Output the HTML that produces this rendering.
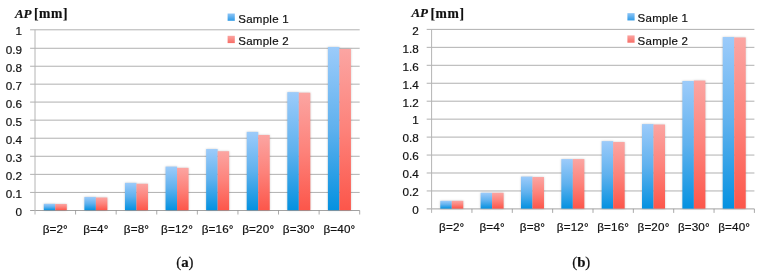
<!DOCTYPE html>
<html><head><meta charset="utf-8"><title>AP charts</title>
<style>
html,body{margin:0;padding:0;background:#fff;}
svg{display:block;}
text{font-family:"Liberation Sans",sans-serif;fill:#111;stroke:#111;stroke-width:0.2px;}
.yl{font-size:11.7px;}
.xl{font-size:11.7px;letter-spacing:0.15px;}
.lt{font-size:11.5px;letter-spacing:0.25px;}
.ti{font-family:"Liberation Serif",serif;font-weight:bold;font-size:13px;fill:#111;stroke:#111;stroke-width:0.2px;}
.tb{font-size:13.6px;letter-spacing:0.65px;}
.cap{font-family:"Liberation Serif",serif;font-size:14.8px;fill:#111;}
</style></head><body>
<svg width="762" height="274" viewBox="0 0 762 274">
<defs>
<linearGradient id="g1" x1="0" y1="0" x2="0" y2="1"><stop offset="0" stop-color="#9ccbfa"/><stop offset="0.5" stop-color="#5fb1ee"/><stop offset="1" stop-color="#0491e0"/></linearGradient>
<linearGradient id="g2" x1="0" y1="0" x2="0" y2="1"><stop offset="0" stop-color="#fba5a2"/><stop offset="0.5" stop-color="#fd827a"/><stop offset="1" stop-color="#fc564a"/></linearGradient>
<linearGradient id="l1" x1="0" y1="0" x2="0" y2="1"><stop offset="0" stop-color="#8fc6f7"/><stop offset="1" stop-color="#2e9ae6"/></linearGradient>
<linearGradient id="l2" x1="0" y1="0" x2="0" y2="1"><stop offset="0" stop-color="#fba5a2"/><stop offset="1" stop-color="#f76d66"/></linearGradient>
<filter id="sh" x="-5%" y="-5%" width="110%" height="110%"><feGaussianBlur stdDeviation="0.9"/></filter>
</defs>
<rect width="762" height="274" fill="#fff"/>
<line x1="30.10" y1="210.50" x2="359.70" y2="210.50" stroke="#8a8a8a" stroke-width="0.8"/>
<text class="yl" x="22.10" y="216.10" text-anchor="end">0</text>
<line x1="30.10" y1="192.43" x2="359.70" y2="192.43" stroke="#a2a2a2" stroke-width="0.85"/>
<text class="yl" x="22.10" y="198.03" text-anchor="end">0.1</text>
<line x1="30.10" y1="174.36" x2="359.70" y2="174.36" stroke="#a2a2a2" stroke-width="0.85"/>
<text class="yl" x="22.10" y="179.96" text-anchor="end">0.2</text>
<line x1="30.10" y1="156.29" x2="359.70" y2="156.29" stroke="#a2a2a2" stroke-width="0.85"/>
<text class="yl" x="22.10" y="161.89" text-anchor="end">0.3</text>
<line x1="30.10" y1="138.22" x2="359.70" y2="138.22" stroke="#a2a2a2" stroke-width="0.85"/>
<text class="yl" x="22.10" y="143.82" text-anchor="end">0.4</text>
<line x1="30.10" y1="120.15" x2="359.70" y2="120.15" stroke="#a2a2a2" stroke-width="0.85"/>
<text class="yl" x="22.10" y="125.75" text-anchor="end">0.5</text>
<line x1="30.10" y1="102.08" x2="359.70" y2="102.08" stroke="#a2a2a2" stroke-width="0.85"/>
<text class="yl" x="22.10" y="107.68" text-anchor="end">0.6</text>
<line x1="30.10" y1="84.16" x2="359.70" y2="84.16" stroke="#a2a2a2" stroke-width="0.85"/>
<text class="yl" x="22.10" y="89.76" text-anchor="end">0.7</text>
<line x1="30.10" y1="66.24" x2="359.70" y2="66.24" stroke="#a2a2a2" stroke-width="0.85"/>
<text class="yl" x="22.10" y="71.84" text-anchor="end">0.8</text>
<line x1="30.10" y1="48.27" x2="359.70" y2="48.27" stroke="#a2a2a2" stroke-width="0.85"/>
<text class="yl" x="22.10" y="53.87" text-anchor="end">0.9</text>
<line x1="30.10" y1="29.80" x2="359.70" y2="29.80" stroke="#a2a2a2" stroke-width="0.85"/>
<text class="yl" x="22.10" y="35.40" text-anchor="end">1</text>
<line x1="35.00" y1="29.80" x2="35.00" y2="214.50" stroke="#b4b4b4" stroke-width="1"/>
<line x1="75.59" y1="210.50" x2="75.59" y2="214.50" stroke="#8c8c8c" stroke-width="0.75"/>
<line x1="116.17" y1="210.50" x2="116.17" y2="214.50" stroke="#8c8c8c" stroke-width="0.75"/>
<line x1="156.76" y1="210.50" x2="156.76" y2="214.50" stroke="#8c8c8c" stroke-width="0.75"/>
<line x1="197.35" y1="210.50" x2="197.35" y2="214.50" stroke="#8c8c8c" stroke-width="0.75"/>
<line x1="237.94" y1="210.50" x2="237.94" y2="214.50" stroke="#8c8c8c" stroke-width="0.75"/>
<line x1="278.52" y1="210.50" x2="278.52" y2="214.50" stroke="#8c8c8c" stroke-width="0.75"/>
<line x1="319.11" y1="210.50" x2="319.11" y2="214.50" stroke="#8c8c8c" stroke-width="0.75"/>
<line x1="359.70" y1="210.50" x2="359.70" y2="214.50" stroke="#8c8c8c" stroke-width="0.75"/>
<text class="xl" x="55.29" y="232.5" text-anchor="middle">β=2°</text>
<text class="xl" x="95.88" y="232.5" text-anchor="middle">β=4°</text>
<text class="xl" x="136.47" y="232.5" text-anchor="middle">β=8°</text>
<text class="xl" x="177.06" y="232.5" text-anchor="middle">β=12°</text>
<text class="xl" x="217.64" y="232.5" text-anchor="middle">β=16°</text>
<text class="xl" x="258.23" y="232.5" text-anchor="middle">β=20°</text>
<text class="xl" x="298.82" y="232.5" text-anchor="middle">β=30°</text>
<text class="xl" x="339.41" y="232.5" text-anchor="middle">β=40°</text>
<g filter="url(#sh)" fill="#000" fill-opacity="0.2"><rect x="43.79" y="203.81" width="11.50" height="6.39"/><rect x="55.29" y="203.99" width="11.50" height="6.21"/><rect x="84.38" y="196.95" width="11.50" height="13.25"/><rect x="95.88" y="197.49" width="11.50" height="12.71"/><rect x="124.97" y="182.85" width="11.50" height="27.35"/><rect x="136.47" y="183.76" width="11.50" height="26.44"/><rect x="165.56" y="166.59" width="11.50" height="43.61"/><rect x="177.06" y="167.85" width="11.50" height="42.35"/><rect x="206.14" y="149.06" width="11.50" height="61.14"/><rect x="217.64" y="151.23" width="11.50" height="58.97"/><rect x="246.73" y="131.90" width="11.50" height="78.30"/><rect x="258.23" y="134.97" width="11.50" height="75.23"/><rect x="287.32" y="92.14" width="11.50" height="118.06"/><rect x="298.82" y="92.68" width="11.50" height="117.52"/><rect x="327.91" y="46.97" width="11.50" height="163.23"/><rect x="339.41" y="48.95" width="11.50" height="161.25"/></g>
<rect x="43.79" y="203.81" width="11.50" height="6.39" fill="url(#g1)"/>
<rect x="55.29" y="203.99" width="11.50" height="6.21" fill="url(#g2)"/>
<rect x="84.38" y="196.95" width="11.50" height="13.25" fill="url(#g1)"/>
<rect x="95.88" y="197.49" width="11.50" height="12.71" fill="url(#g2)"/>
<rect x="124.97" y="182.85" width="11.50" height="27.35" fill="url(#g1)"/>
<rect x="136.47" y="183.76" width="11.50" height="26.44" fill="url(#g2)"/>
<rect x="165.56" y="166.59" width="11.50" height="43.61" fill="url(#g1)"/>
<rect x="177.06" y="167.85" width="11.50" height="42.35" fill="url(#g2)"/>
<rect x="206.14" y="149.06" width="11.50" height="61.14" fill="url(#g1)"/>
<rect x="217.64" y="151.23" width="11.50" height="58.97" fill="url(#g2)"/>
<rect x="246.73" y="131.90" width="11.50" height="78.30" fill="url(#g1)"/>
<rect x="258.23" y="134.97" width="11.50" height="75.23" fill="url(#g2)"/>
<rect x="287.32" y="92.14" width="11.50" height="118.06" fill="url(#g1)"/>
<rect x="298.82" y="92.68" width="11.50" height="117.52" fill="url(#g2)"/>
<rect x="327.91" y="46.97" width="11.50" height="163.23" fill="url(#g1)"/>
<rect x="339.41" y="48.95" width="11.50" height="161.25" fill="url(#g2)"/>
<text class="ti" x="14.9" y="17.7" font-style="italic">AP</text>
<text class="ti tb" x="33.90" y="18.00">[mm]</text>
<rect x="227.6" y="13.5" width="7.2" height="7.3" fill="url(#l1)"/>
<text class="lt" x="238.30" y="22.6">Sample 1</text>
<rect x="227.6" y="35.8" width="7.2" height="7.3" fill="url(#l2)"/>
<text class="lt" x="238.30" y="45.0">Sample 2</text>
<text class="cap" x="184.85" y="266.6" text-anchor="middle">(<tspan font-weight="bold">a</tspan>)</text>
<line x1="426.70" y1="208.90" x2="754.40" y2="208.90" stroke="#8a8a8a" stroke-width="0.8"/>
<text class="yl" x="418.70" y="214.20" text-anchor="end">0</text>
<line x1="426.70" y1="190.95" x2="754.40" y2="190.95" stroke="#a2a2a2" stroke-width="0.85"/>
<text class="yl" x="418.70" y="196.25" text-anchor="end">0.2</text>
<line x1="426.70" y1="173.00" x2="754.40" y2="173.00" stroke="#a2a2a2" stroke-width="0.85"/>
<text class="yl" x="418.70" y="178.30" text-anchor="end">0.4</text>
<line x1="426.70" y1="155.05" x2="754.40" y2="155.05" stroke="#a2a2a2" stroke-width="0.85"/>
<text class="yl" x="418.70" y="160.35" text-anchor="end">0.6</text>
<line x1="426.70" y1="137.10" x2="754.40" y2="137.10" stroke="#a2a2a2" stroke-width="0.85"/>
<text class="yl" x="418.70" y="142.40" text-anchor="end">0.8</text>
<line x1="426.70" y1="119.15" x2="754.40" y2="119.15" stroke="#a2a2a2" stroke-width="0.85"/>
<text class="yl" x="418.70" y="124.45" text-anchor="end">1</text>
<line x1="426.70" y1="101.20" x2="754.40" y2="101.20" stroke="#a2a2a2" stroke-width="0.85"/>
<text class="yl" x="418.70" y="106.50" text-anchor="end">1.2</text>
<line x1="426.70" y1="83.25" x2="754.40" y2="83.25" stroke="#a2a2a2" stroke-width="0.85"/>
<text class="yl" x="418.70" y="88.55" text-anchor="end">1.4</text>
<line x1="426.70" y1="65.30" x2="754.40" y2="65.30" stroke="#a2a2a2" stroke-width="0.85"/>
<text class="yl" x="418.70" y="70.60" text-anchor="end">1.6</text>
<line x1="426.70" y1="47.35" x2="754.40" y2="47.35" stroke="#a2a2a2" stroke-width="0.85"/>
<text class="yl" x="418.70" y="52.65" text-anchor="end">1.8</text>
<line x1="426.70" y1="29.40" x2="754.40" y2="29.40" stroke="#a2a2a2" stroke-width="0.85"/>
<text class="yl" x="418.70" y="34.70" text-anchor="end">2</text>
<line x1="431.60" y1="29.40" x2="431.60" y2="212.90" stroke="#b4b4b4" stroke-width="1"/>
<line x1="471.95" y1="208.90" x2="471.95" y2="212.90" stroke="#8c8c8c" stroke-width="0.75"/>
<line x1="512.30" y1="208.90" x2="512.30" y2="212.90" stroke="#8c8c8c" stroke-width="0.75"/>
<line x1="552.65" y1="208.90" x2="552.65" y2="212.90" stroke="#8c8c8c" stroke-width="0.75"/>
<line x1="593.00" y1="208.90" x2="593.00" y2="212.90" stroke="#8c8c8c" stroke-width="0.75"/>
<line x1="633.35" y1="208.90" x2="633.35" y2="212.90" stroke="#8c8c8c" stroke-width="0.75"/>
<line x1="673.70" y1="208.90" x2="673.70" y2="212.90" stroke="#8c8c8c" stroke-width="0.75"/>
<line x1="714.05" y1="208.90" x2="714.05" y2="212.90" stroke="#8c8c8c" stroke-width="0.75"/>
<line x1="754.40" y1="208.90" x2="754.40" y2="212.90" stroke="#8c8c8c" stroke-width="0.75"/>
<text class="xl" x="451.78" y="231.0" text-anchor="middle">β=2°</text>
<text class="xl" x="492.12" y="231.0" text-anchor="middle">β=4°</text>
<text class="xl" x="532.48" y="231.0" text-anchor="middle">β=8°</text>
<text class="xl" x="572.83" y="231.0" text-anchor="middle">β=12°</text>
<text class="xl" x="613.17" y="231.0" text-anchor="middle">β=16°</text>
<text class="xl" x="653.52" y="231.0" text-anchor="middle">β=20°</text>
<text class="xl" x="693.88" y="231.0" text-anchor="middle">β=30°</text>
<text class="xl" x="734.22" y="231.0" text-anchor="middle">β=40°</text>
<g filter="url(#sh)" fill="#000" fill-opacity="0.2"><rect x="440.28" y="200.82" width="11.50" height="7.78"/><rect x="451.78" y="200.82" width="11.50" height="7.78"/><rect x="480.62" y="192.75" width="11.50" height="15.86"/><rect x="492.12" y="192.75" width="11.50" height="15.86"/><rect x="520.98" y="176.59" width="11.50" height="32.01"/><rect x="532.48" y="177.04" width="11.50" height="31.56"/><rect x="561.33" y="159.09" width="11.50" height="49.51"/><rect x="572.83" y="159.09" width="11.50" height="49.51"/><rect x="601.67" y="141.14" width="11.50" height="67.46"/><rect x="613.17" y="142.04" width="11.50" height="66.56"/><rect x="642.02" y="124.09" width="11.50" height="84.51"/><rect x="653.52" y="124.54" width="11.50" height="84.06"/><rect x="682.38" y="81.01" width="11.50" height="127.59"/><rect x="693.88" y="80.56" width="11.50" height="128.04"/><rect x="722.72" y="37.03" width="11.50" height="171.57"/><rect x="734.22" y="37.48" width="11.50" height="171.12"/></g>
<rect x="440.28" y="200.82" width="11.50" height="7.78" fill="url(#g1)"/>
<rect x="451.78" y="200.82" width="11.50" height="7.78" fill="url(#g2)"/>
<rect x="480.62" y="192.75" width="11.50" height="15.86" fill="url(#g1)"/>
<rect x="492.12" y="192.75" width="11.50" height="15.86" fill="url(#g2)"/>
<rect x="520.98" y="176.59" width="11.50" height="32.01" fill="url(#g1)"/>
<rect x="532.48" y="177.04" width="11.50" height="31.56" fill="url(#g2)"/>
<rect x="561.33" y="159.09" width="11.50" height="49.51" fill="url(#g1)"/>
<rect x="572.83" y="159.09" width="11.50" height="49.51" fill="url(#g2)"/>
<rect x="601.67" y="141.14" width="11.50" height="67.46" fill="url(#g1)"/>
<rect x="613.17" y="142.04" width="11.50" height="66.56" fill="url(#g2)"/>
<rect x="642.02" y="124.09" width="11.50" height="84.51" fill="url(#g1)"/>
<rect x="653.52" y="124.54" width="11.50" height="84.06" fill="url(#g2)"/>
<rect x="682.38" y="81.01" width="11.50" height="127.59" fill="url(#g1)"/>
<rect x="693.88" y="80.56" width="11.50" height="128.04" fill="url(#g2)"/>
<rect x="722.72" y="37.03" width="11.50" height="171.57" fill="url(#g1)"/>
<rect x="734.22" y="37.48" width="11.50" height="171.12" fill="url(#g2)"/>
<text class="ti" x="411.4" y="17.4" font-style="italic">AP</text>
<text class="ti tb" x="430.40" y="17.70">[mm]</text>
<rect x="627.4" y="13.15" width="7.2" height="7.3" fill="url(#l1)"/>
<text class="lt" x="637.60" y="22.3">Sample 1</text>
<rect x="627.4" y="35.4" width="7.2" height="7.3" fill="url(#l2)"/>
<text class="lt" x="637.60" y="44.7">Sample 2</text>
<text class="cap" x="581.25" y="266.6" text-anchor="middle">(<tspan font-weight="bold">b</tspan>)</text>
</svg>
</body></html>
